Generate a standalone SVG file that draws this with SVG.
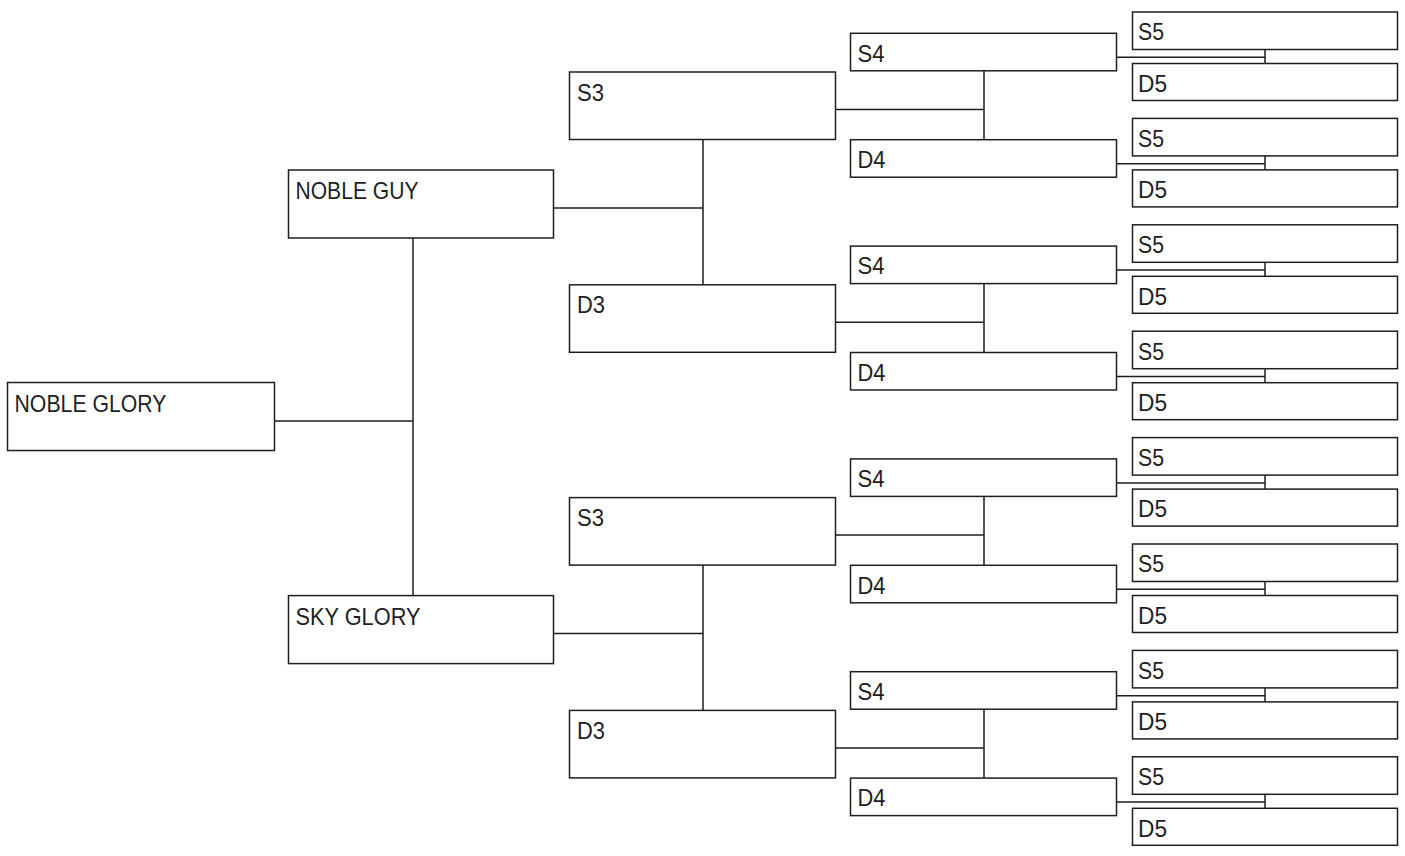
<svg xmlns="http://www.w3.org/2000/svg" width="1405" height="856" viewBox="0 0 1405 856">
<style>
  .box rect { fill: #ffffff; stroke: #1e1e1e; stroke-width: 1.5; }
  .box text { font-family: "Liberation Sans", Arial, sans-serif; font-size: 24px; fill: #1e1e1e; }
  .s { }
  #connectors path { fill: none; stroke: #1e1e1e; stroke-width: 1.5; }
</style>
<rect x="0" y="0" width="1405" height="856" fill="#ffffff"/>
<g id="connectors">
  <path d="M274.5 421H413M413 238V595.6"/>
  <path d="M553.5 208H703M703 139.5V284.8"/>
  <path d="M553.5 633.6H703M703 565.1V710.4"/>
  <path d="M835.5 109.5H984M984 70.8V139.7"/>
  <path d="M835.5 322.3H984M984 283.6V352.5"/>
  <path d="M835.5 535.1H984M984 496.4V565.3"/>
  <path d="M835.5 747.9H984M984 709.2V778.1"/>
  <path d="M1116.5 57.3H1265M1265 49.5V63.5"/>
  <path d="M1116.5 163.7H1265M1265 155.9V169.9"/>
  <path d="M1116.5 270.1H1265M1265 262.3V276.3"/>
  <path d="M1116.5 376.5H1265M1265 368.7V382.7"/>
  <path d="M1116.5 482.9H1265M1265 475.1V489.1"/>
  <path d="M1116.5 589.3H1265M1265 581.5V595.5"/>
  <path d="M1116.5 695.7H1265M1265 687.9V701.9"/>
  <path d="M1116.5 802.1H1265M1265 794.3V808.3"/>
</g>
<g id="n1" class="box"><rect x="7.5" y="382.5" width="267" height="68"/><text x="14.5" y="411.5" textLength="152" lengthAdjust="spacingAndGlyphs">NOBLE GLORY</text></g>
<g id="n2" class="box"><rect x="288.5" y="170" width="265" height="68"/><text x="295.5" y="199" textLength="123" lengthAdjust="spacingAndGlyphs">NOBLE GUY</text></g>
<g id="n3" class="box"><rect x="288.5" y="595.6" width="265" height="68"/><text x="295.5" y="624.6" textLength="125" lengthAdjust="spacingAndGlyphs">SKY GLORY</text></g>
<g id="n4" class="box"><rect x="569.5" y="72" width="266" height="67.5"/><text x="577" y="100.5" textLength="27" lengthAdjust="spacingAndGlyphs">S3</text></g>
<g id="n5" class="box"><rect x="569.5" y="284.8" width="266" height="67.5"/><text x="577" y="313.3" textLength="28" lengthAdjust="spacingAndGlyphs">D3</text></g>
<g id="n6" class="box"><rect x="569.5" y="497.6" width="266" height="67.5"/><text x="577" y="526.1" textLength="27" lengthAdjust="spacingAndGlyphs">S3</text></g>
<g id="n7" class="box"><rect x="569.5" y="710.4" width="266" height="67.5"/><text x="577" y="738.9" textLength="28" lengthAdjust="spacingAndGlyphs">D3</text></g>
<g id="n8" class="box"><rect x="850.5" y="33.3" width="266" height="37.5"/><text x="857.5" y="61.5" textLength="27" lengthAdjust="spacingAndGlyphs">S4</text></g>
<g id="n9" class="box"><rect x="850.5" y="139.7" width="266" height="37.5"/><text x="857.5" y="167.9" textLength="28" lengthAdjust="spacingAndGlyphs">D4</text></g>
<g id="n10" class="box"><rect x="850.5" y="246.1" width="266" height="37.5"/><text x="857.5" y="274.3" textLength="27" lengthAdjust="spacingAndGlyphs">S4</text></g>
<g id="n11" class="box"><rect x="850.5" y="352.5" width="266" height="37.5"/><text x="857.5" y="380.7" textLength="28" lengthAdjust="spacingAndGlyphs">D4</text></g>
<g id="n12" class="box"><rect x="850.5" y="458.9" width="266" height="37.5"/><text x="857.5" y="487.1" textLength="27" lengthAdjust="spacingAndGlyphs">S4</text></g>
<g id="n13" class="box"><rect x="850.5" y="565.3" width="266" height="37.5"/><text x="857.5" y="593.5" textLength="28" lengthAdjust="spacingAndGlyphs">D4</text></g>
<g id="n14" class="box"><rect x="850.5" y="671.7" width="266" height="37.5"/><text x="857.5" y="699.9" textLength="27" lengthAdjust="spacingAndGlyphs">S4</text></g>
<g id="n15" class="box"><rect x="850.5" y="778.1" width="266" height="37.5"/><text x="857.5" y="806.3" textLength="28" lengthAdjust="spacingAndGlyphs">D4</text></g>
<g id="n16" class="box"><rect x="1132.5" y="12" width="265" height="37.5"/><text x="1138" y="40.3" textLength="26" lengthAdjust="spacingAndGlyphs">S5</text></g>
<g id="n17" class="box"><rect x="1132.5" y="63.5" width="265" height="37"/><text x="1138" y="91.8" textLength="29" lengthAdjust="spacingAndGlyphs">D5</text></g>
<g id="n18" class="box"><rect x="1132.5" y="118.4" width="265" height="37.5"/><text x="1138" y="146.7" textLength="26" lengthAdjust="spacingAndGlyphs">S5</text></g>
<g id="n19" class="box"><rect x="1132.5" y="169.9" width="265" height="37"/><text x="1138" y="198.2" textLength="29" lengthAdjust="spacingAndGlyphs">D5</text></g>
<g id="n20" class="box"><rect x="1132.5" y="224.8" width="265" height="37.5"/><text x="1138" y="253.1" textLength="26" lengthAdjust="spacingAndGlyphs">S5</text></g>
<g id="n21" class="box"><rect x="1132.5" y="276.3" width="265" height="37"/><text x="1138" y="304.6" textLength="29" lengthAdjust="spacingAndGlyphs">D5</text></g>
<g id="n22" class="box"><rect x="1132.5" y="331.2" width="265" height="37.5"/><text x="1138" y="359.5" textLength="26" lengthAdjust="spacingAndGlyphs">S5</text></g>
<g id="n23" class="box"><rect x="1132.5" y="382.7" width="265" height="37"/><text x="1138" y="411" textLength="29" lengthAdjust="spacingAndGlyphs">D5</text></g>
<g id="n24" class="box"><rect x="1132.5" y="437.6" width="265" height="37.5"/><text x="1138" y="465.9" textLength="26" lengthAdjust="spacingAndGlyphs">S5</text></g>
<g id="n25" class="box"><rect x="1132.5" y="489.1" width="265" height="37"/><text x="1138" y="517.4" textLength="29" lengthAdjust="spacingAndGlyphs">D5</text></g>
<g id="n26" class="box"><rect x="1132.5" y="544" width="265" height="37.5"/><text x="1138" y="572.3" textLength="26" lengthAdjust="spacingAndGlyphs">S5</text></g>
<g id="n27" class="box"><rect x="1132.5" y="595.5" width="265" height="37"/><text x="1138" y="623.8" textLength="29" lengthAdjust="spacingAndGlyphs">D5</text></g>
<g id="n28" class="box"><rect x="1132.5" y="650.4" width="265" height="37.5"/><text x="1138" y="678.7" textLength="26" lengthAdjust="spacingAndGlyphs">S5</text></g>
<g id="n29" class="box"><rect x="1132.5" y="701.9" width="265" height="37"/><text x="1138" y="730.2" textLength="29" lengthAdjust="spacingAndGlyphs">D5</text></g>
<g id="n30" class="box"><rect x="1132.5" y="756.8" width="265" height="37.5"/><text x="1138" y="785.1" textLength="26" lengthAdjust="spacingAndGlyphs">S5</text></g>
<g id="n31" class="box"><rect x="1132.5" y="808.3" width="265" height="37"/><text x="1138" y="836.6" textLength="29" lengthAdjust="spacingAndGlyphs">D5</text></g>
</svg>
